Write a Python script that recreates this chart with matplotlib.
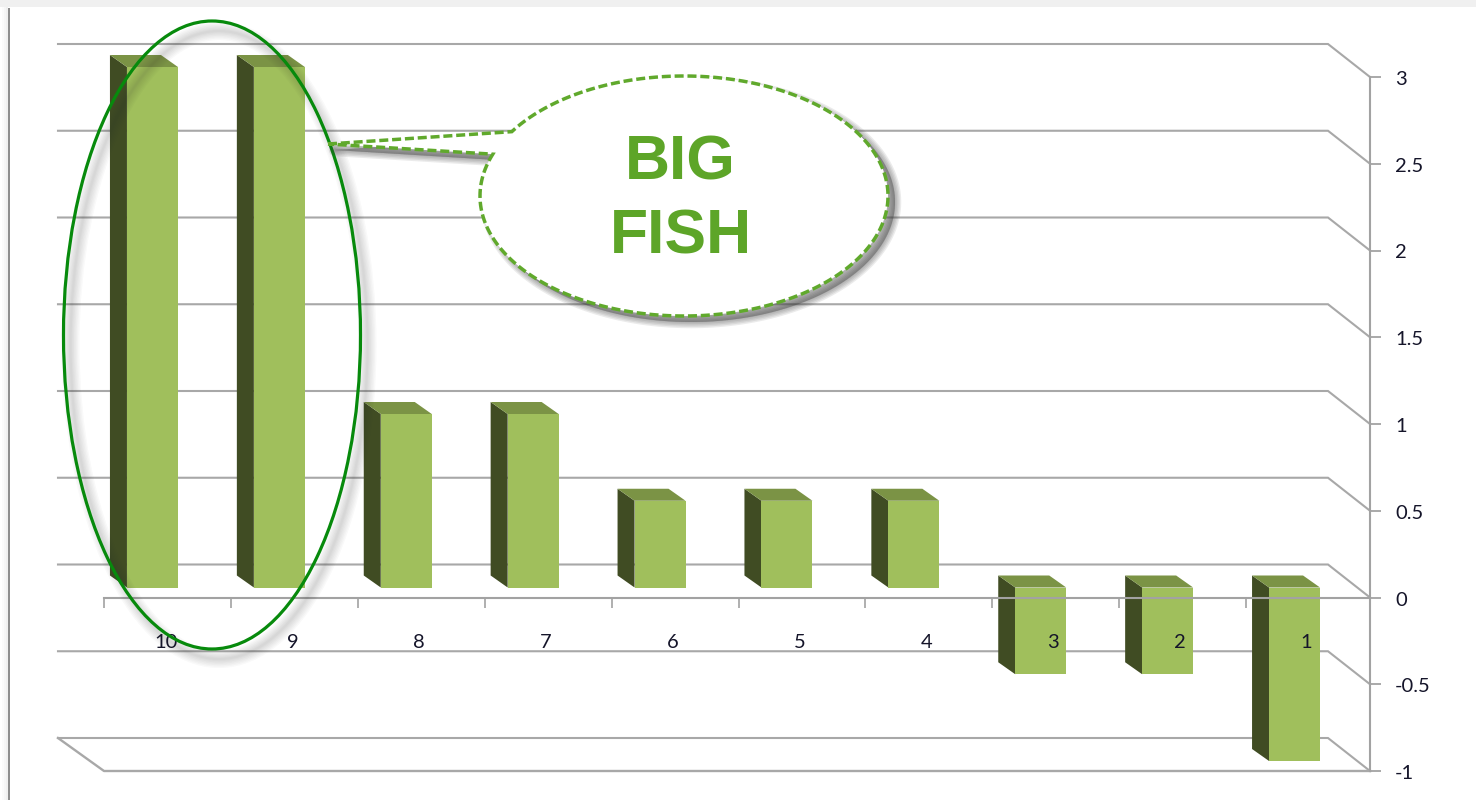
import numpy as np
import matplotlib
matplotlib.use("Agg")
import matplotlib.pyplot as plt
from matplotlib.patches import Ellipse, Polygon, Rectangle
from matplotlib.transforms import Affine2D

# ---------- data ----------
categories = ["10", "9", "8", "7", "6", "5", "4", "3", "2", "1"]
values = [3, 3, 1, 1, 0.5, 0.5, 0.5, -0.5, -0.5, -1]
y_ticks = [3, 2.5, 2, 1.5, 1, 0.5, 0, -0.5, -1]
y_tick_labels = ["3", "2.5", "2", "1.5", "1", "0.5", "0", "-0.5", "-1"]
callout_lines = ["BIG", "FISH"]

# ---------- styles ----------
FRONT = "#a0bf5c"
SIDE = "#404c23"
TOP = "#7b9345"
GRID = "#a8a8a8"
AXIS = "#a2a2a2"
CIRCLE = "#078a0c"
CALLOUT = "#60a92c"
W, H = 1476, 800
SLOT_PX = 126.9
UNIT_PX = 173.5

plt.rcParams["font.family"] = ["Lato", "DejaVu Sans"]
fig = plt.figure(figsize=(W / 100, H / 100), dpi=100, facecolor="white")
ax = fig.add_axes([104 / W, (H - 771) / H, 1266 / W, 694 / H], facecolor="none")
xmax = -0.5 + 1266 / SLOT_PX
ax.set_xlim(-0.5, xmax)
ax.set_ylim(-1, 3)
px = Affine2D().scale(1, -1).translate(0, H)

# window chrome
fig.add_artist(Rectangle((0, 0), W, 7, transform=px, fc="#f0f0f0", ec="none"))
for i, c in enumerate(["#ffffff", "#fbfbfb", "#f6f6f6", "#f0f0f0"]):
    fig.add_artist(Rectangle((i * 2, 7), 2, H, transform=px, fc=c, ec="none"))
fig.add_artist(Rectangle((8, 8), 2, H, transform=px, fc="#8e8e8e", ec="none"))

# offsets of the 3-D planes, in data units
x_pos = np.arange(len(values))
front_dx, front_dy = -15 / SLOT_PX, 10 / UNIT_PX
depth_dx, depth_dy = -17 / SLOT_PX, 12 / UNIT_PX
wall_dx, wall_dy = -42 / SLOT_PX, 33 / UNIT_PX
bar_w = 51 / SLOT_PX

# back wall and side-wall gridlines
wall_left = -0.5 + wall_dx - 4 / SLOT_PX
for v in y_ticks:
    ax.plot([wall_left, xmax + wall_dx, xmax], [v + wall_dy, v + wall_dy, v],
            color=GRID, lw=1.5, zorder=0.5, clip_on=False, solid_joinstyle="miter")
# floor
ax.plot([wall_left, -0.5, xmax], [-1 + wall_dy, -1, -1], color=GRID, lw=1.7,
        zorder=0.6, clip_on=False)

# 3-D bars
ax.bar(x_pos + front_dx, values, width=bar_w, bottom=front_dy, color=FRONT,
       linewidth=0, zorder=1.3, clip_on=False)
for x, v in zip(x_pos, values):
    xl = x + front_dx - bar_w / 2
    xr = x + front_dx + bar_w / 2
    hi = max(v, 0) + front_dy
    lo = min(v, 0) + front_dy
    ax.add_patch(Polygon([(xl, lo), (xl, hi), (xl + depth_dx, hi + depth_dy),
                          (xl + depth_dx, lo + depth_dy)], closed=True,
                         fc=SIDE, ec="none", zorder=1.2, clip_on=False))
    ax.add_patch(Polygon([(xl, hi), (xr, hi), (xr + depth_dx, hi + depth_dy),
                          (xl + depth_dx, hi + depth_dy)], closed=True,
                         fc=TOP, ec="none", zorder=1.2, clip_on=False))

# axes
for s in ["top", "left"]:
    ax.spines[s].set_visible(False)
ax.spines["right"].set_color(AXIS)
ax.spines["right"].set_linewidth(1.5)
ax.spines["bottom"].set_position(("data", 0))
ax.spines["bottom"].set_color(AXIS)
ax.spines["bottom"].set_linewidth(1.5)
ax.set_axisbelow(False)

ax.yaxis.tick_right()
ax.set_yticks(y_ticks)
ax.set_yticklabels(y_tick_labels)
ax.tick_params(axis="y", length=8, width=1.3, color=AXIS, pad=10,
               labelsize=14.5, labelcolor="#15152a")
down_2px = Affine2D().translate(0, -1)
for t in ax.get_yticklabels():
    t.set_transform(t.get_transform() + down_2px)

ax.set_xticks(list(x_pos - 0.5) + [xmax])
ax.set_xticklabels([])
ax.set_xticks(x_pos * 0.9985 - 0.012, minor=True)
ax.set_xticklabels(categories, minor=True)
ax.tick_params(axis="x", which="major", direction="out", length=7, width=1.2, color=AXIS)
ax.tick_params(axis="x", which="minor", length=0, pad=26, labelsize=14.5, labelcolor="#15152a")

# highlight ellipse with soft shadow
ec_xy = (212, 335)
ec_w, ec_h = 297, 628
for lw in [13, 11, 9, 7, 5, 3, 1.5]:
    fig.add_artist(Ellipse((ec_xy[0] + 7, ec_xy[1] + 10), ec_w, ec_h, transform=px,
                           fc="none", ec="#303030", lw=lw, alpha=0.028, zorder=3))
fig.add_artist(Ellipse(ec_xy, ec_w, ec_h, transform=px, fc="none", ec=CIRCLE, lw=2.3, zorder=4))

# callout bubble
cx, cy, rx, ry = 684, 196, 204, 120
tip = (328, 144)
t_upper = np.arctan2((131 - cy) / ry, (510 - cx) / rx) % (2 * np.pi)
t_lower = np.arctan2((154 - cy) / ry, (492 - cx) / rx) % (2 * np.pi)
# clockwise on screen from the upper tail edge, round the far side, to the lower edge
angles = np.linspace(t_upper, t_lower + 2 * np.pi, 240)
arc = np.column_stack([cx + rx * np.cos(angles), cy + ry * np.sin(angles)])
outline = np.vstack([[tip], arc])

shadow = outline + [7, 6]
for lw in [9, 7, 5, 3, 1]:
    fig.add_artist(Polygon(shadow, closed=True, transform=px, fc="#404040", ec="#404040",
                           lw=lw, alpha=0.1, zorder=5, joinstyle="round"))
fig.add_artist(Polygon(outline, closed=True, transform=px, fc="white", ec="none", zorder=6))
fig.add_artist(Polygon(outline, closed=True, transform=px, fc="none", ec=CALLOUT, lw=2.5,
                       linestyle=(0, (2.6, 1.1)), zorder=7))

for line, (tx, ty) in zip(callout_lines, [(680, 157), (681, 231)]):
    fig.text(tx / W, 1 - ty / H, line, color="#5da528", fontsize=45, fontweight="bold",
             family="Liberation Sans", ha="center", va="center_baseline", zorder=8)

fig.savefig("out.png", dpi=100)
